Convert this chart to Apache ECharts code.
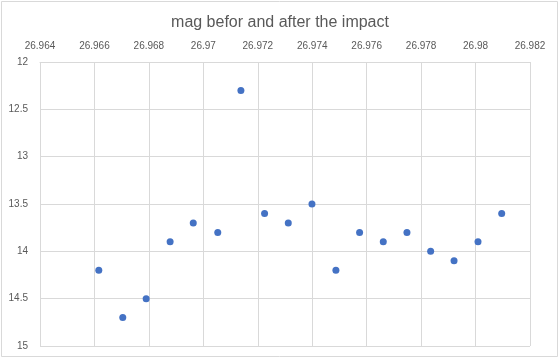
<!DOCTYPE html>
<html>
<head>
<meta charset="utf-8">
<script src="https://cdn.jsdelivr.net/npm/echarts@6/dist/echarts.min.js"></script>
<style>
html,body{margin:0;padding:0;background:#fff;}
#c{width:560px;height:360px;}
</style>
</head>
<body>
<div id="c"></div>
<script>
var titleText = "mag befor and after the impact";
var xValues = [26.96616, 26.96704, 26.96790, 26.96878, 26.96963, 26.97053, 26.97138, 26.97225, 26.97312, 26.97399, 26.97487, 26.97574, 26.97661, 26.97748, 26.97835, 26.97921, 26.98009, 26.98096];
var magValues = [14.2, 14.7, 14.5, 13.9, 13.7, 13.8, 12.3, 13.6, 13.7, 13.5, 14.2, 13.8, 13.9, 13.8, 14.0, 14.1, 13.9, 13.6];
var xMin = 26.964, xMax = 26.982, xStep = 0.002;
var yMin = 12, yMax = 15, yStep = 0.5;

var points = xValues.map(function (x, i) { return [x, magValues[i]]; });
var font = "'Liberation Sans', Arial, sans-serif";
var chart = echarts.init(document.getElementById('c'), null, {renderer: 'canvas'});
chart.setOption({
  animation: false,
  backgroundColor: '#ffffff',
  title: {
    text: titleText,
    left: 'center',
    top: 10,
    textStyle: {fontFamily: font, fontSize: 16, fontWeight: 'normal', color: '#595959'}
  },
  graphic: [{
    type: 'rect',
    shape: {x: 1.5, y: 1.5, width: 556, height: 355},
    style: {fill: 'none', stroke: '#d9d9d9', lineWidth: 1},
    silent: true
  }],
  grid: {left: 40, right: 30, top: 62, bottom: 14, containLabel: false},
  xAxis: {
    type: 'value',
    position: 'top',
    min: xMin, max: xMax, interval: xStep,
    axisLine: {show: true, lineStyle: {color: '#d9d9d9'}},
    axisTick: {show: false},
    splitLine: {show: true, lineStyle: {color: '#d9d9d9', width: 1}},
    axisLabel: {
      fontFamily: font, fontSize: 10, color: '#595959', margin: 11,
      formatter: function (v) { return String(parseFloat(v.toFixed(3))); }
    }
  },
  yAxis: {
    type: 'value',
    inverse: true,
    min: yMin, max: yMax, interval: yStep,
    axisLine: {show: false},
    axisTick: {show: false},
    splitLine: {show: true, lineStyle: {color: '#d9d9d9', width: 1}},
    axisLabel: {
      fontFamily: font, fontSize: 10, color: '#595959', margin: 12,
      formatter: function (v) { return String(parseFloat(v.toFixed(1))); }
    }
  },
  series: [{
    type: 'scatter',
    data: points,
    symbol: 'circle',
    symbolSize: 7,
    itemStyle: {color: '#4472C4', opacity: 1}
  }]
});
</script>
</body>
</html>
